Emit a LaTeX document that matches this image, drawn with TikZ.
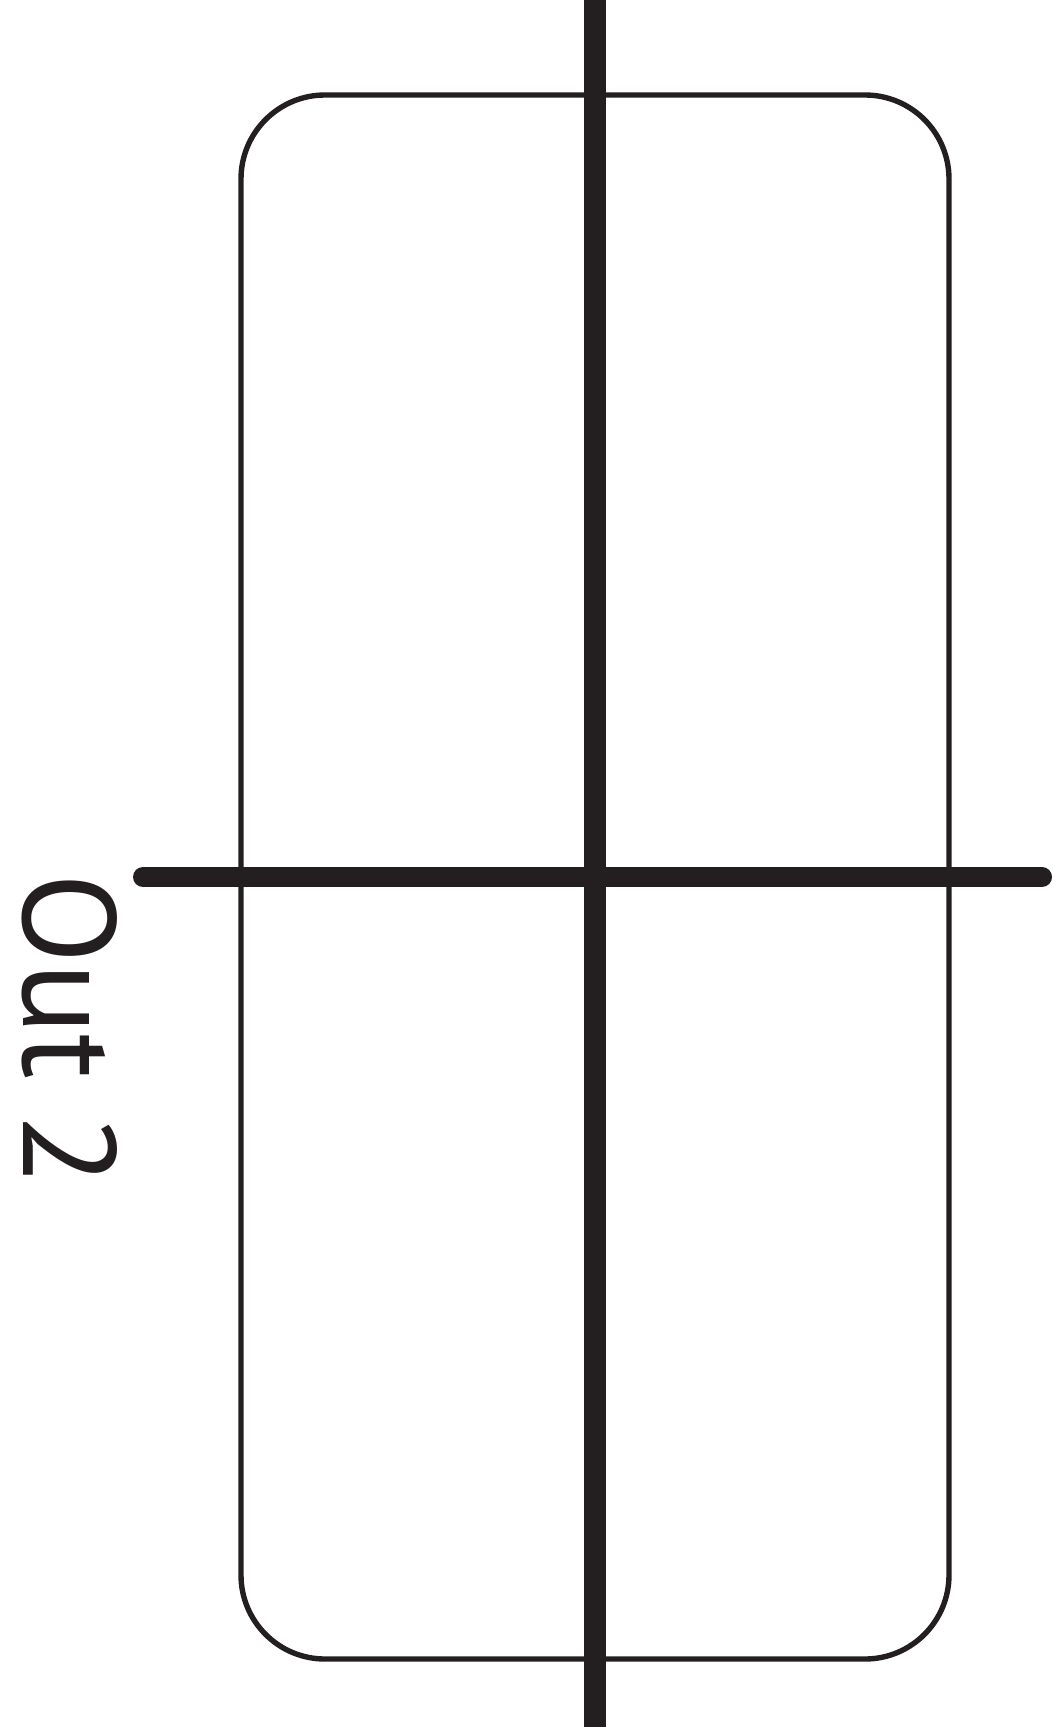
\documentclass[tikz,border=0pt]{standalone}
\usepackage{fontspec}
\setmainfont{PT Sans}
\usepackage{tikz}
\definecolor{WireBlack}{RGB}{35,31,32}

\begin{document}
\begin{tikzpicture}[x=0.5pt,y=-0.5pt]
  \useasboundingbox (0,0) rectangle (1053,1727);
  \node[draw=WireBlack,line width=2.7pt,rounded corners=42pt,
        minimum width=354pt,minimum height=782pt,inner sep=0pt] (box) at (595,877) {};
  \coordinate (wtop) at (595,0);
  \coordinate (wbot) at (595,1727);
  \coordinate (hleft) at (143,877);
  \coordinate (hright) at (1042,877);
  \draw[WireBlack,line width=11pt] (wtop) -- (wbot);
  \draw[WireBlack,line width=10pt,line cap=round] (hleft) -- (hright);
  \node[rotate=-90,anchor=base west,inner sep=0pt,text=WireBlack,
        font=\fontsize{66pt}{74pt}\selectfont] (outlabel) at (24,873) {Out 2};
\end{tikzpicture}
\end{document}
